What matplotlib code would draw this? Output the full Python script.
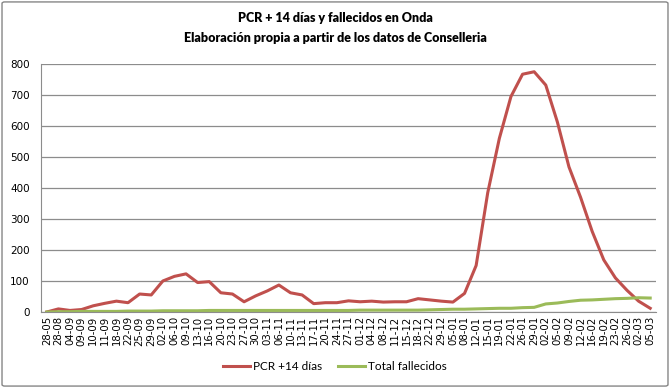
import numpy as np
import matplotlib.pyplot as plt
from matplotlib.patches import FancyBboxPatch

fechas = ['28-05', '28-08', '04-09', '09-09', '10-09', '11-09', '18-09', '22-09', '25-09', '29-09',
          '02-10', '06-10', '09-10', '13-10', '16-10', '20-10', '23-10', '27-10', '30-10', '03-11',
          '06-11', '10-11', '13-11', '17-11', '20-11', '24-11', '27-11', '01-12', '04-12', '08-12',
          '11-12', '15-12', '18-12', '22-12', '29-12', '05-01', '08-01', '12-01', '15-01', '19-01',
          '22-01', '26-01', '29-01', '02-02', '05-02', '09-02', '12-02', '16-02', '19-02', '23-02',
          '26-02', '02-03', '05-03']

pcr = [0, 10, 5, 8, 20, 28, 35, 30, 58, 55,
       100, 115, 123, 95, 98, 62, 58, 33, 52, 68,
       87, 62, 55, 27, 30, 30, 36, 33, 35, 32,
       33, 33, 43, 39, 35, 32, 60, 150, 385, 560,
       695, 767, 775, 732, 613, 468, 370, 260, 168, 110,
       70, 35, 12]

fallecidos = [0, 1, 1, 2, 2, 2, 2, 3, 3, 3,
              4, 4, 4, 4, 5, 5, 5, 5, 5, 5,
              5, 5, 5, 5, 5, 5, 5, 6, 6, 6,
              6, 6, 6, 7, 8, 9, 9, 10, 11, 12,
              12, 14, 15, 26, 29, 34, 38, 39, 41, 43,
              44, 46, 45]

plt.rcParams['font.family'] = ['Lato', 'DejaVu Sans']

fig = plt.figure(figsize=(6.7, 3.88), dpi=100)
ax = fig.add_axes([41 / 670, 1 - 312 / 388, 615 / 670, 248 / 388])

x = np.arange(len(fechas))
ax.plot(x, pcr, color='#C0504D', lw=2.2, label='PCR +14 días')
ax.plot(x, fallecidos, color='#9BBB59', lw=2.2, label='Total fallecidos')

ax.set_xlim(-0.5, len(fechas) - 0.5)
ax.set_ylim(0, 800)
ax.set_yticks(range(0, 801, 100))
ax.set_xticks(x)
ax.set_xticklabels(fechas, rotation=90, fontsize=7.3, family=['DejaVu Sans'])
ax.tick_params(axis='y', labelsize=7.5, length=0, pad=8)
ax.tick_params(axis='x', length=0, pad=3)
for lbl in ax.get_yticklabels():
    lbl.set_family(['DejaVu Sans'])
ax.grid(axis='y', color='#8c8c8c', lw=0.9)
ax.set_axisbelow(True)
for s in ['top', 'right']:
    ax.spines[s].set_visible(False)
ax.spines['left'].set_color('#8c8c8c')
ax.spines['bottom'].set_color('#8c8c8c')

fig.text(0.5, 1 - 18 / 388, 'PCR + 14 días y fallecidos en Onda', ha='center', va='center',
         fontsize=9.0, fontweight='heavy')
fig.text(0.5, 1 - 38 / 388, 'Elaboración propia a partir de los datos de Conselleria', ha='center',
         va='center', fontsize=9.0, fontweight='heavy')

fig.legend(loc='center', bbox_to_anchor=(0.5, 1 - 367 / 388), ncol=2, frameon=False,
           fontsize=8.5, handlelength=2.3, handletextpad=0.25, columnspacing=1.3)

border = FancyBboxPatch((0.003, 0.005), 0.994, 0.99, boxstyle='round,pad=0,rounding_size=0.004',
                        transform=fig.transFigure, fill=False, edgecolor='#868686', lw=1.0)
fig.patches.append(border)

fig.savefig('out.png', dpi=100)
